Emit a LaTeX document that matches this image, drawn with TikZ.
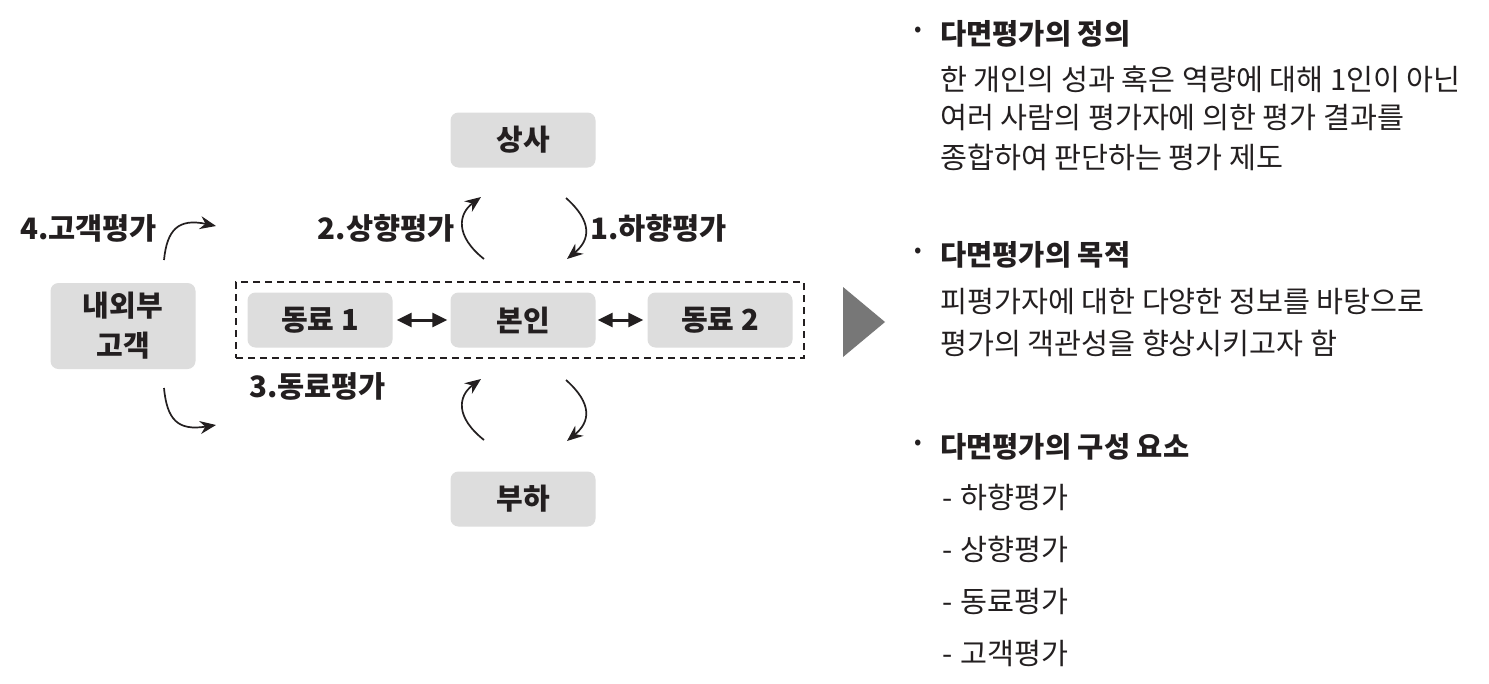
\documentclass[tikz,border=0pt]{standalone}
\usepackage{fontspec}
\setmainfont{Noto Sans CJK KR}
\usetikzlibrary{arrows.meta}
\definecolor{ink}{HTML}{231F20}
\definecolor{boxgray}{HTML}{DDDDDD}
\definecolor{trigray}{HTML}{777777}
\tikzset{
  gbox/.style={fill=boxgray, rounded corners=8pt, minimum width=145pt, minimum height=55pt, inner sep=0pt, text=ink, font=\fontsize{29}{32}\selectfont\bfseries},
  lbl/.style={text=ink, font=\fontsize{29.5}{32}\selectfont\bfseries, inner sep=0pt},
  head/.style={text=ink, font=\fontsize{28.5}{32}\selectfont\bfseries, inner sep=0pt, anchor=west},
  body/.style={text=ink, font=\fontsize{29.3}{32}\selectfont, inner sep=0pt, anchor=west},
  bul/.style={text=ink, font=\fontsize{22}{22}\selectfont, inner sep=0pt},
  curvearrow/.style={draw=ink, line width=1.7pt, -{Stealth[length=16pt,width=13pt]}},
  dblarrow/.style={draw=ink, line width=3pt, {Triangle[length=15pt,width=14pt]}-{Triangle[length=15pt,width=14pt]}},
}
\begin{document}
\begin{tikzpicture}[x=1pt,y=-1pt]
\useasboundingbox (0,0) rectangle (1489,683);
\fill[white] (0,0) rectangle (1489,683);

% dashed frame
\node[draw=ink, line width=1.5pt, dash pattern=on 7pt off 5pt, minimum width=568pt, minimum height=76pt, inner sep=0pt] (frame) at (520,320) {};

% boxes
\node[gbox] (boss) at (523,140) {상사};
\node[gbox] (sub) at (523,499) {부하};
\node[gbox, minimum height=86pt, align=center, font=\fontsize{29}{40}\selectfont\bfseries] (cust) at (123,326) {내외부\\고객};
\node[gbox] (p1) at (320,320) {동료 1};
\node[gbox] (self) at (523,320) {본인};
\node[gbox] (p2) at (720,320) {동료 2};

% double arrows
\path (p1.east) ++(4,0) coordinate (a1);
\path (self.west) ++(-3,0) coordinate (a2);
\path (self.east) ++(2,0) coordinate (b1);
\path (p2.west) ++(-4,0) coordinate (b2);
\draw[dblarrow] (a1) -- (a2);
\draw[dblarrow] (b1) -- (b2);

% curved arrows (upper)
\coordinate (u1s) at (484,259);
\coordinate (u1e) at (481,197);
\coordinate (d1s) at (566,198);
\coordinate (d1e) at (567,259);
\draw[curvearrow] (u1s) .. controls (455,236) and (458,214) .. (u1e);
\draw[curvearrow] (d1s) .. controls (593,222) and (590,240) .. (d1e);
% curved arrows (lower)
\coordinate (u2s) at (484,440);
\coordinate (u2e) at (481,379);
\coordinate (d2s) at (566,380);
\coordinate (d2e) at (567,441);
\draw[curvearrow] (u2s) .. controls (455,417) and (458,396) .. (u2e);
\draw[curvearrow] (d2s) .. controls (593,404) and (590,422) .. (d2e);
% customer arrows
\coordinate (c1s) at (164,260);
\coordinate (c1e) at (216,226);
\coordinate (c2s) at (164,388);
\coordinate (c2e) at (216,425);
\draw[curvearrow] (c1s) .. controls (167,230) and (178,218) .. (c1e);
\draw[curvearrow] (c2s) .. controls (167,420) and (178,431) .. (c2e);

% labels
\node[lbl, anchor=east] (l2) at (455,228) {2.상향평가};
\node[lbl, anchor=west] (l1) at (590,228) {1.하향평가};
\node[lbl, anchor=west] (l3) at (249,386) {3.동료평가};
\node[lbl, anchor=west] (l4) at (20,228) {4.고객평가};

% arrow triangle
\fill[trigray] (843,287) -- (843,357) -- (885,322) -- cycle;

% right text
\node[bul] (bul1) at (918,32) {•};
\node[head] (h1) at (940,34) {다면평가의 정의};
\node[body] (t11) at (940,79) {한 개인의 성과 혹은 역량에 대해 1인이 아닌};
\node[body] (t12) at (940,118) {여러 사람의 평가자에 의한 평가 결과를};
\node[body] (t13) at (940,157) {종합하여 판단하는 평가 제도};

\node[bul] (bul2) at (918,253) {•};
\node[head] (h2) at (940,255) {다면평가의 목적};
\node[body] (t21) at (940,302) {피평가자에 대한 다양한 정보를 바탕으로};
\node[body] (t22) at (940,343) {평가의 객관성을 향상시키고자 함};

\node[bul] (bul3) at (918,445) {•};
\node[head] (h3) at (940,447) {다면평가의 구성 요소};
\node[body] (t31) at (942,497) {-\hspace{8pt}하향평가};
\node[body] (t32) at (942,549) {-\hspace{8pt}상향평가};
\node[body] (t33) at (942,602) {-\hspace{8pt}동료평가};
\node[body] (t34) at (942,654) {-\hspace{8pt}고객평가};
\end{tikzpicture}
\end{document}
